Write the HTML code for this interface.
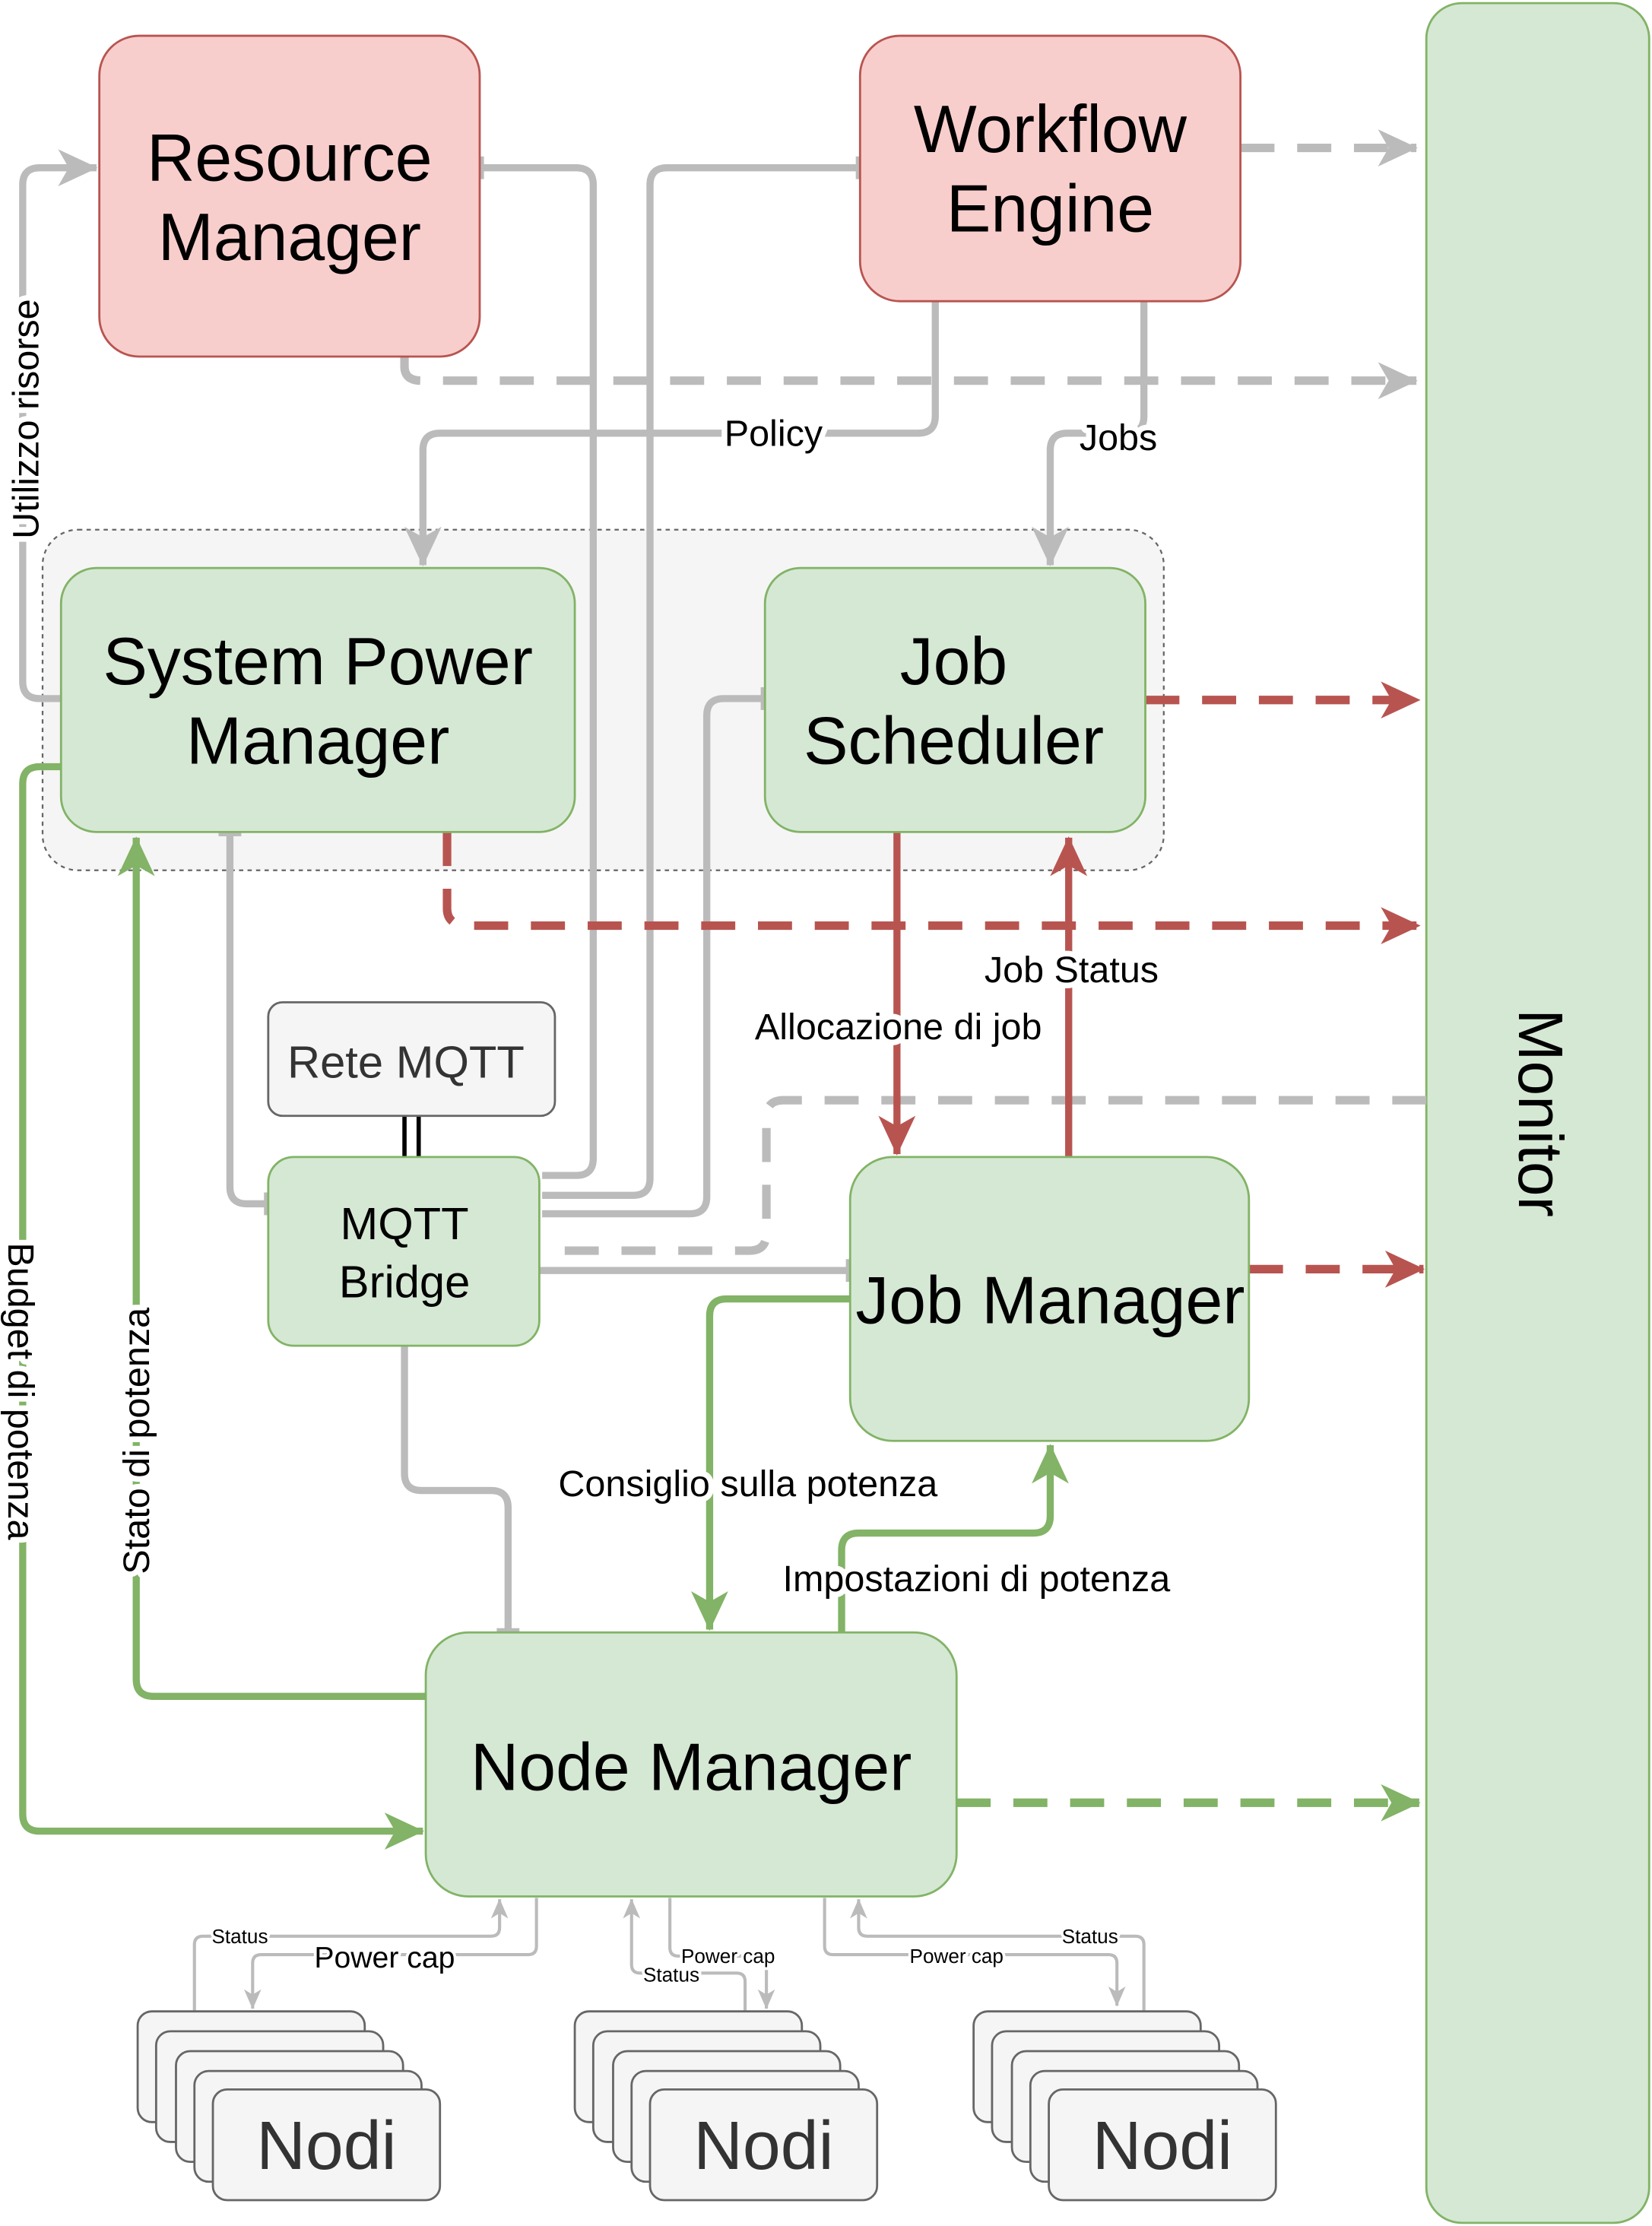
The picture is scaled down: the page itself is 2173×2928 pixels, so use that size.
<!DOCTYPE html>
<html><head><meta charset="utf-8"><style>
html,body{margin:0;padding:0;background:#fff}
svg{display:block}
text{font-family:"Liberation Sans",sans-serif}
.lbl{paint-order:stroke;stroke:#fff;stroke-width:8px;stroke-linejoin:round}
</style></head><body>
<svg width="2173" height="2928" viewBox="0 0 1164 1568" xmlns="http://www.w3.org/2000/svg">
<defs>
<marker id="ag" viewBox="0 0 30 30" refX="29" refY="15" markerWidth="28" markerHeight="28" markerUnits="userSpaceOnUse" orient="auto"><path d="M0 1 L30 15 L0 29 L8 15 z" fill="#bbb"/></marker>
<marker id="ar" viewBox="0 0 30 30" refX="29" refY="15" markerWidth="28" markerHeight="28" markerUnits="userSpaceOnUse" orient="auto"><path d="M0 1 L30 15 L0 29 L8 15 z" fill="#b85450"/></marker>
<marker id="agr" viewBox="0 0 30 30" refX="29" refY="15" markerWidth="28" markerHeight="28" markerUnits="userSpaceOnUse" orient="auto"><path d="M0 1 L30 15 L0 29 L8 15 z" fill="#82b366"/></marker>
<marker id="as" viewBox="0 0 30 30" refX="29" refY="15" markerWidth="14" markerHeight="14" markerUnits="userSpaceOnUse" orient="auto"><path d="M0 2 L30 15 L0 28 L8 15 z" fill="#bbb"/></marker>
</defs>

<rect x="30" y="373" width="790" height="240" rx="25" fill="#f5f5f5" stroke="#666" stroke-width="1.2" stroke-dasharray="3 3"/>

<rect x="1005" y="2" width="157" height="1564" rx="25" fill="#d5e8d4" stroke="#82b366" stroke-width="1.5"/>
<text x="1082" y="784" font-size="44" text-anchor="middle" dominant-baseline="middle" transform="rotate(90 1082 784)">Monitor</text>

<g fill="none" stroke="#bbb" stroke-width="5">
<path d="M338 118 H406 Q418 118 418 130 V816 Q418 828 406 828 H382"/>
<path d="M606 118 H470 Q458 118 458 130 V830 Q458 842 446 842 H382"/>
<path d="M539 492 H510 Q498 492 498 504 V843 Q498 855 486 855 H382"/>
<path d="M659 212 V293 Q659 305 647 305 H310 Q298 305 298 317 V398" marker-end="url(#ag)"/>
<path d="M806 212 V293 Q806 305 794 305 H752 Q740 305 740 317 V398" marker-end="url(#ag)"/>
<path d="M162 586 V836 Q162 848 174 848 H189"/>
<path d="M380 895 H599"/>
<path d="M285 948 V1038 Q285 1050 297 1050 H346 Q358 1050 358 1062 V1150"/>
<path d="M43 492 H28 Q16 492 16 480 V130 Q16 118 28 118 H68" marker-end="url(#ag)"/>
</g>
<g stroke="#bbb" stroke-width="6"><path d="M338 110 V126 M606 110 V126 M539 484 V500 M154 586 H170 M189 840 V856 M599 887 V903 M350 1150 H366"/></g>
<line x1="285" y1="786" x2="285" y2="815" stroke="#000" stroke-width="3"/>
<line x1="295" y1="786" x2="295" y2="815" stroke="#000" stroke-width="3"/>

<g fill="none" stroke="#bbb" stroke-width="6" stroke-dasharray="24 16">
<path d="M874 104 H998" marker-end="url(#ag)"/>
<path d="M285 251 V258 Q285 268 297 268 H998" marker-end="url(#ag)"/>
<path d="M1005 775 H552 Q540 775 540 787 V869 Q540 881 528 881 H382"/>
</g>

<g fill="none" stroke="#b85450" stroke-width="6" stroke-dasharray="24 16">
<path d="M807 493 H1000" marker-end="url(#ar)"/>
<path d="M315 586 V640 Q315 652 330 652 H1000" marker-end="url(#ar)"/>
<path d="M880 894 H1003" marker-end="url(#ar)"/>
</g>
<g fill="none" stroke="#b85450" stroke-width="5">
<path d="M632 586 V813" marker-end="url(#ar)"/>
<path d="M753 815 V590" marker-end="url(#ar)"/>
</g>

<g fill="none" stroke="#82b366" stroke-width="5">
<path d="M43 540 H28 Q16 540 16 552 V1278 Q16 1290 28 1290 H298" marker-end="url(#agr)"/>
<path d="M300 1195 H108 Q96 1195 96 1183 V590" marker-end="url(#agr)"/>
<path d="M599 915 H512 Q500 915 500 927 V1148" marker-end="url(#agr)"/>
<path d="M593 1150 V1092 Q593 1080 605 1080 H728 Q740 1080 740 1068 V1018" marker-end="url(#agr)"/>
</g>
<path d="M674 1270 H1000" fill="none" stroke="#82b366" stroke-width="6" stroke-dasharray="24 16" marker-end="url(#agr)"/>

<g fill="none" stroke="#bbb" stroke-width="2.2">
<path d="M137 1417 V1370 Q137 1364 143 1364 H346 Q352 1364 352 1358 V1338" marker-end="url(#as)"/>
<path d="M378 1337 V1371 Q378 1377 372 1377 H184 Q178 1377 178 1383 V1415" marker-end="url(#as)"/>
<path d="M525 1417 V1396 Q525 1390 519 1390 H451 Q445 1390 445 1384 V1338" marker-end="url(#as)"/>
<path d="M472 1337 V1372 Q472 1378 478 1378 H534 Q540 1378 540 1384 V1415" marker-end="url(#as)"/>
<path d="M806 1417 V1370 Q806 1364 800 1364 H611 Q605 1364 605 1358 V1338" marker-end="url(#as)"/>
<path d="M581 1337 V1371 Q581 1377 587 1377 H781 Q787 1377 787 1383 V1413" marker-end="url(#as)"/>
</g>

<rect x="70" y="25" width="268" height="226" rx="28" fill="#f8cecc" stroke="#b85450" stroke-width="1.5"/>
<text x="204" y="127" font-size="47" text-anchor="middle">Resource</text>
<text x="204" y="183" font-size="47" text-anchor="middle">Manager</text>
<rect x="606" y="25" width="268" height="187" rx="28" fill="#f8cecc" stroke="#b85450" stroke-width="1.5"/>
<text x="740" y="107" font-size="47" text-anchor="middle">Workflow</text>
<text x="740" y="163" font-size="47" text-anchor="middle">Engine</text>

<rect x="43" y="400" width="362" height="186" rx="25" fill="#d5e8d4" stroke="#82b366" stroke-width="1.5"/>
<text x="224" y="482" font-size="47" text-anchor="middle">System Power</text>
<text x="224" y="538" font-size="47" text-anchor="middle">Manager</text>
<rect x="539" y="400" width="268" height="186" rx="25" fill="#d5e8d4" stroke="#82b366" stroke-width="1.5"/>
<text x="672" y="482" font-size="47" text-anchor="middle">Job</text>
<text x="672" y="538" font-size="47" text-anchor="middle">Scheduler</text>

<rect x="189" y="706" width="202" height="80" rx="10" fill="#f5f5f5" stroke="#666" stroke-width="1.5"/>
<text x="286" y="759" font-size="32" text-anchor="middle" fill="#333">Rete MQTT</text>
<rect x="189" y="815" width="191" height="133" rx="18" fill="#d5e8d4" stroke="#82b366" stroke-width="1.5"/>
<text x="285" y="873" font-size="32" text-anchor="middle">MQTT</text>
<text x="285" y="914" font-size="32" text-anchor="middle">Bridge</text>

<rect x="599" y="815" width="281" height="200" rx="30" fill="#d5e8d4" stroke="#82b366" stroke-width="1.5"/>
<text x="740" y="932" font-size="47" text-anchor="middle">Job Manager</text>
<rect x="300" y="1150" width="374" height="186" rx="30" fill="#d5e8d4" stroke="#82b366" stroke-width="1.5"/>
<text x="487" y="1261" font-size="47" text-anchor="middle">Node Manager</text>

<g fill="#f5f5f5" stroke="#666" stroke-width="1.5">
<rect x="97" y="1417" width="160" height="78" rx="10"/><rect x="110" y="1431" width="160" height="78" rx="10"/><rect x="124" y="1445" width="160" height="78" rx="10"/><rect x="137" y="1459" width="160" height="78" rx="10"/><rect x="150" y="1472" width="160" height="78" rx="10"/>
<rect x="405" y="1417" width="160" height="78" rx="10"/><rect x="418" y="1431" width="160" height="78" rx="10"/><rect x="432" y="1445" width="160" height="78" rx="10"/><rect x="445" y="1459" width="160" height="78" rx="10"/><rect x="458" y="1472" width="160" height="78" rx="10"/>
<rect x="686" y="1417" width="160" height="78" rx="10"/><rect x="699" y="1431" width="160" height="78" rx="10"/><rect x="713" y="1445" width="160" height="78" rx="10"/><rect x="726" y="1459" width="160" height="78" rx="10"/><rect x="739" y="1472" width="160" height="78" rx="10"/>
</g>
<g font-size="48" text-anchor="middle" fill="#333">
<text x="230" y="1528">Nodi</text><text x="538" y="1528">Nodi</text><text x="819" y="1528">Nodi</text>
</g>

<g font-size="26" text-anchor="middle" class="lbl">
<text x="545" y="314">Policy</text>
<text x="788" y="317">Jobs</text>
<text x="633" y="732">Allocazione di job</text>
<text x="755" y="692">Job Status</text>
<text x="527" y="1054">Consiglio sulla potenza</text>
<text x="688" y="1121">Impostazioni di potenza</text>
<text x="0" y="0" transform="translate(27 295) rotate(-90)">Utilizzo risorse</text>
<text x="0" y="0" transform="translate(6 980) rotate(90)">Budget di potenza</text>
<text x="0" y="0" transform="translate(105 1015) rotate(-90)">Stato di potenza</text>
</g>
<g text-anchor="middle" class="lbl" style="stroke-width:4px">
<text x="169" y="1369" font-size="14">Status</text>
<text x="271" y="1386" font-size="21">Power cap</text>
<text x="473" y="1396" font-size="14">Status</text>
<text x="513" y="1383" font-size="14">Power cap</text>
<text x="768" y="1369" font-size="14">Status</text>
<text x="674" y="1383" font-size="14">Power cap</text>
</g>
</svg>
</body></html>
